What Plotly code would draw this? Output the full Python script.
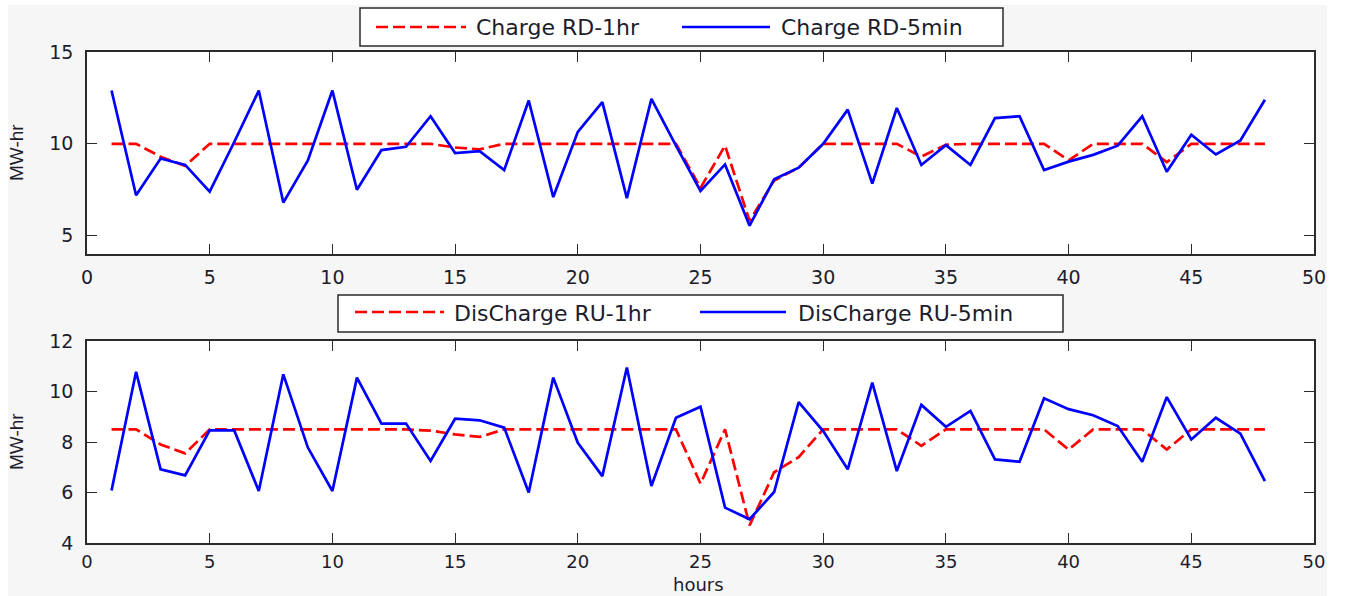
import plotly.graph_objects as go

# ---- data -------------------------------------------------------------
hours = list(range(1, 49))

charge_rd_1hr = [10, 10, 9.3, 8.8, 10, 10, 10, 10, 10, 10,
                 10, 10, 10, 10, 9.8, 9.7, 10, 10, 10, 10,
                 10, 10, 10, 10, 7.6, 9.9, 5.8, 8.0, 8.7, 10,
                 10, 10, 10, 9.3, 9.95, 10, 10, 10, 10, 9.1,
                 10, 10, 10, 9.0, 10, 10, 10, 10]

charge_rd_5min = [12.9, 7.2, 9.2, 8.85, 7.4, 10.1, 12.9, 6.8, 9.1, 12.9,
                  7.5, 9.66, 9.84, 11.5, 9.5, 9.6, 8.57, 12.36, 7.1, 10.65,
                  12.27, 7.04, 12.45, 9.9, 7.44, 8.88, 5.54, 8.07, 8.7, 10.0,
                  11.86, 7.83, 11.95, 8.85, 9.93, 8.85, 11.4, 11.5, 8.57, 9.03,
                  9.4, 9.9, 11.5, 8.48, 10.5, 9.42, 10.18, 12.4]

discharge_ru_1hr = [8.5, 8.5, 7.9, 7.55, 8.5, 8.5, 8.5, 8.5, 8.5, 8.5,
                    8.5, 8.5, 8.5, 8.45, 8.3, 8.2, 8.5, 8.5, 8.5, 8.5,
                    8.5, 8.5, 8.5, 8.5, 6.35, 8.5, 4.7, 6.8, 7.4, 8.5,
                    8.5, 8.5, 8.5, 7.85, 8.5, 8.5, 8.5, 8.5, 8.5, 7.7,
                    8.5, 8.5, 8.5, 7.7, 8.5, 8.5, 8.5, 8.5]

discharge_ru_5min = [6.08, 10.78, 6.92, 6.68, 8.46, 8.46, 6.06, 10.68, 7.78, 6.06,
                     10.55, 8.73, 8.73, 7.25, 8.92, 8.86, 8.57, 6.0, 10.55, 7.97,
                     6.65, 10.95, 6.26, 8.96, 9.4, 5.4, 4.94, 6.02, 9.58, 8.43,
                     6.92, 10.35, 6.85, 9.47, 8.6, 9.23, 7.31, 7.22, 9.73, 9.3,
                     9.06, 8.63, 7.22, 9.78, 8.1, 8.96, 8.33, 6.45]

top_names = ["Charge RD-1hr", "Charge RD-5min"]
bottom_names = ["DisCharge RU-1hr", "DisCharge RU-5min"]
y_title = "MW-hr"
x_title = "hours"

# ---- page geometry (pixels) --------------------------------------------
W, H = 1345, 596
ML, MR, MT, MB = 87, 31, 52, 53
PW, PH = W - ML - MR, H - MT - MB


def fx(px):
    return (px - ML) / PW


def fy(py):
    return (H - MB - py) / PH


RED = "#ff0000"
BLUE = "#0000ff"
AXC = "#2b2b2b"
TXT = "#1c1c2c"
FONT = "DejaVu Sans"
DASH = "12px,5px"

fig = go.Figure()

fig.add_trace(go.Scatter(x=hours, y=charge_rd_1hr, mode="lines", name=top_names[0],
                         line=dict(color=RED, width=2.7, dash=DASH), xaxis="x", yaxis="y"))
fig.add_trace(go.Scatter(x=hours, y=charge_rd_5min, mode="lines", name=top_names[1],
                         line=dict(color=BLUE, width=2.7), xaxis="x", yaxis="y"))
fig.add_trace(go.Scatter(x=hours, y=discharge_ru_1hr, mode="lines", name=bottom_names[0],
                         line=dict(color=RED, width=2.7, dash=DASH), xaxis="x2", yaxis="y2"))
fig.add_trace(go.Scatter(x=hours, y=discharge_ru_5min, mode="lines", name=bottom_names[1],
                         line=dict(color=BLUE, width=2.7), xaxis="x2", yaxis="y2"))

axis_common = dict(
    showline=True, linecolor=AXC, linewidth=1.5, mirror="ticks",
    ticks="inside", ticklen=10, tickwidth=1.3, tickcolor=AXC,
    showgrid=False, zeroline=False,
    tickfont=dict(family=FONT, size=19, color=TXT),
)

top_dom = [fy(254), 1.0]
bot_dom = [0.0, fy(341)]

fig.update_layout(
    width=W, height=H,
    margin=dict(l=ML, r=MR, t=MT, b=MB),
    paper_bgcolor="#f6f6f6",
    plot_bgcolor="#ffffff",
    showlegend=False,
    xaxis=dict(domain=[0, 1], anchor="y", range=[0, 50], tickvals=list(range(0, 51, 5)),
               ticklabelstandoff=5, **axis_common),
    yaxis=dict(domain=top_dom, anchor="x", range=[4, 15], tickvals=[5, 10, 15],
               ticklabelstandoff=8, **axis_common),
    xaxis2=dict(domain=[0, 1], anchor="y2", range=[0, 50], tickvals=list(range(0, 51, 5)),
                ticklabelstandoff=2, **axis_common),
    yaxis2=dict(domain=bot_dom, anchor="x2", range=[4, 12], tickvals=[4, 6, 8, 10, 12],
                ticklabelstandoff=8, **axis_common),
)
fig.update_xaxes(tickfont=dict(size=18), selector=dict(anchor="y2"))

shapes = []
annotations = []

# white page edges around the grey figure area
for x0, x1, y0, y1 in [(0, 8, 0, H), (0, W, 0, 5), (1327, W, 0, H)]:
    shapes.append(dict(type="rect", xref="paper", yref="paper",
                       x0=fx(x0), x1=fx(x1), y0=fy(y1), y1=fy(y0),
                       fillcolor="#ffffff", line=dict(width=0), layer="above"))


def legend_box(box, items):
    bx0, bx1, by0, by1 = box
    shapes.append(dict(type="rect", xref="paper", yref="paper",
                       x0=fx(bx0), x1=fx(bx1), y0=fy(by1), y1=fy(by0),
                       fillcolor="#ffffff", line=dict(color=AXC, width=1.5), layer="above"))
    for (lx0, lx1, ly, color, dash, tx, label) in items:
        shapes.append(dict(type="line", xref="paper", yref="paper",
                           x0=fx(lx0), x1=fx(lx1), y0=fy(ly), y1=fy(ly),
                           line=dict(color=color, width=2.7, dash=dash), layer="above"))
        annotations.append(dict(xref="paper", yref="paper", x=fx(tx), y=fy(ly + 1),
                                xanchor="left", yanchor="middle", showarrow=False,
                                text=label, font=dict(family=FONT, size=22, color=TXT)))


legend_box((360, 1003, 8, 46),
           [(376, 466, 27, RED, DASH, 474, top_names[0]),
            (682, 770, 27, BLUE, "solid", 779, top_names[1])])
legend_box((338, 1063, 295, 332),
           [(355, 444, 312, RED, DASH, 452, bottom_names[0]),
            (700, 786, 312, BLUE, "solid", 796, bottom_names[1])])

# axis titles
for cy in (153, 442):
    annotations.append(dict(xref="paper", yref="paper", x=fx(16), y=fy(cy),
                            xanchor="center", yanchor="middle", textangle=-90,
                            showarrow=False, text=y_title,
                            font=dict(family="Liberation Sans", size=19, color=TXT)))
annotations.append(dict(xref="paper", yref="paper", x=fx(698), y=fy(596),
                        xanchor="center", yanchor="bottom", showarrow=False, borderpad=0,
                        text=x_title, font=dict(family=FONT, size=18, color=TXT)))

fig.update_layout(shapes=shapes, annotations=annotations)

fig.write_html("out.html")
